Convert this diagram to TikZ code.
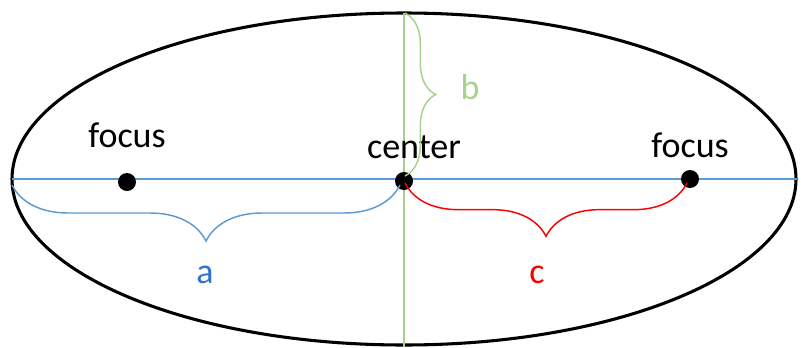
\documentclass[tikz,border=0pt]{standalone}
\usepackage{fontspec}
\setmainfont{Carlito}
\usetikzlibrary{decorations.pathreplacing,positioning}
\definecolor{axblue}{RGB}{91,155,213}
\definecolor{axgreen}{RGB}{169,209,142}
\definecolor{axred}{RGB}{255,0,0}
\definecolor{lblblue}{RGB}{46,117,200}

\begin{document}
\begin{tikzpicture}[
    x=0.75pt, y=-0.75pt,
    dot/.style={circle, fill=black, inner sep=0pt, minimum size=13.5pt},
    lbl/.style={font=\fontsize{27}{30}\selectfont, inner sep=0pt},
    brc/.style={decorate, line width=1.1pt},
  ]
  \useasboundingbox (0,0) rectangle (803,347);

  % Elipsa i osi
  \draw[line width=2.3pt] (404,179) ellipse [x radius=392, y radius=166];
  \coordinate (le) at (12,179);
  \coordinate (re) at (797,179);
  \coordinate (tp) at (404,13);
  \coordinate (bt) at (404,347);
  \draw[axblue, line width=1pt] (le) -- (re);
  \draw[axgreen, line width=1pt] (tp) -- (bt);

  % Tocke
  \node[dot] (fl) at (127,182) {};
  \node[dot] (ctr) at (404,181) {};
  \node[dot] (fr) at (690,179) {};

  \node[lbl] (tfl) at (127,135) {focus};
  \node[lbl] (tctr) at (414,147) {center};
  \node[lbl] (tfr) at (690,145) {focus};

  % Zagrade
  \coordinate (ba) at (400,185);
  \coordinate (ea) at (12,185);
  \draw[brc, axblue, decoration={brace, amplitude=42pt, aspect=0.5}]
    (ba) -- (ea);
  \coordinate (bc) at (687,183);
  \coordinate (ec) at (405,183);
  \draw[brc, axred, decoration={brace, amplitude=40pt, aspect=0.5}]
    (bc) -- (ec);
  \coordinate (tb) at (405,13);
  \coordinate (eb) at (405,176);
  \draw[brc, axgreen, decoration={brace, amplitude=23pt, aspect=0.5}]
    (tb) -- (eb);

  \node[lbl, text=lblblue] (la) at (205,275) {a};
  \node[lbl, text=axred] (lc) at (537,275) {c};
  \node[lbl, text=axgreen] (lb) at (470,87) {b};
\end{tikzpicture}
\end{document}
